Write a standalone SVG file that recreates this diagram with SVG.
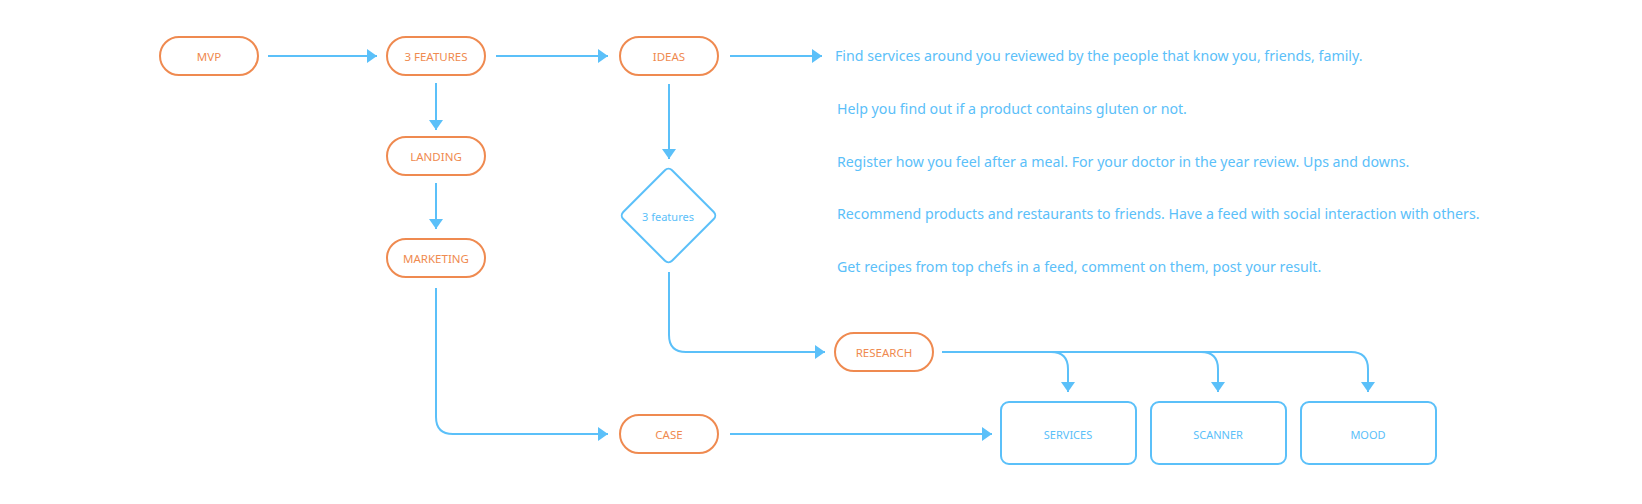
<svg xmlns="http://www.w3.org/2000/svg" width="1642" height="504" viewBox="0 0 1642 504">
<defs>
<marker id="ah" markerWidth="10" markerHeight="14" refX="10" refY="7" orient="auto" markerUnits="userSpaceOnUse">
<path d="M0,0 L10,7 L0,14 Z" fill="#5BC0F9"/>
</marker>
<style>
.pill{fill:#fff;stroke:#EF8A50;stroke-width:2}
.box{fill:#fff;stroke:#5BC0F9;stroke-width:2}
.ot{fill:#EF8A50;font-family:"Noto Sans",sans-serif;font-size:11.5px;text-anchor:middle;dominant-baseline:central}
.bt{fill:#5BC0F9;font-family:"Noto Sans",sans-serif;font-size:11px;text-anchor:middle;dominant-baseline:central}
.lt{fill:#5BC0F9;font-family:"Noto Sans",sans-serif;font-size:14.2px;dominant-baseline:central}
.c{fill:none;stroke:#5BC0F9;stroke-width:2;marker-end:url(#ah)}
</style>
</defs>
<rect width="1642" height="504" fill="#fff"/>
<g id="connectors">
<path class="c" d="M268,56 H377"/>
<path class="c" d="M496,56 H608"/>
<path class="c" d="M730,56 H822"/>
<path class="c" d="M436,83 V130"/>
<path class="c" d="M436,183 V229"/>
<path class="c" d="M669,84 V159"/>
<path class="c" d="M669,272 V335 Q669,352 686,352 H825"/>
<path class="c" d="M436,288 V417 Q436,434 453,434 H608"/>
<path class="c" d="M730,434 H992"/>
<path class="c" d="M942,352 H1051 Q1068,352 1068,369 V392"/>
<path class="c" d="M1051,352 H1201 Q1218,352 1218,369 V392"/>
<path class="c" d="M1201,352 H1351 Q1368,352 1368,369 V392"/>
</g>
<g id="mvp"><rect class="pill" x="160" y="37" width="98" height="38" rx="19"/><text class="ot" x="209" y="56">MVP</text></g>
<g id="features"><rect class="pill" x="387" y="37" width="98" height="38" rx="19"/><text class="ot" x="436" y="56">3 FEATURES</text></g>
<g id="ideas"><rect class="pill" x="620" y="37" width="98" height="38" rx="19"/><text class="ot" x="669" y="56">IDEAS</text></g>
<g id="landing"><rect class="pill" x="387" y="137" width="98" height="38" rx="19"/><text class="ot" x="436" y="156">LANDING</text></g>
<g id="marketing"><rect class="pill" x="387" y="239" width="98" height="38" rx="19"/><text class="ot" x="436" y="258">MARKETING</text></g>
<g id="case"><rect class="pill" x="620" y="415" width="98" height="38" rx="19"/><text class="ot" x="669" y="434">CASE</text></g>
<g id="research"><rect class="pill" x="835" y="333" width="98" height="38" rx="19"/><text class="ot" x="884" y="352">RESEARCH</text></g>
<g id="decision"><rect class="box" x="634" y="181" width="69" height="69" rx="5" transform="rotate(45 668.5 215.5)"/><text class="bt" x="668" y="216">3 features</text></g>
<g id="services"><rect class="box" x="1001" y="402" width="135" height="62" rx="8"/><text class="bt" x="1068" y="434">SERVICES</text></g>
<g id="scanner"><rect class="box" x="1151" y="402" width="135" height="62" rx="8"/><text class="bt" x="1218" y="434">SCANNER</text></g>
<g id="mood"><rect class="box" x="1301" y="402" width="135" height="62" rx="8"/><text class="bt" x="1368" y="434">MOOD</text></g>
<g id="ideas-list">
<text class="lt" x="835" y="55">Find services around you reviewed by the people that know you, friends, family.</text>
<text class="lt" x="837" y="108">Help you find out if a product contains gluten or not.</text>
<text class="lt" x="837" y="161">Register how you feel after a meal. For your doctor in the year review. Ups and downs.</text>
<text class="lt" x="837" y="213">Recommend products and restaurants to friends. Have a feed with social interaction with others.</text>
<text class="lt" x="837" y="266">Get recipes from top chefs in a feed, comment on them, post your result.</text>
</g>
</svg>
